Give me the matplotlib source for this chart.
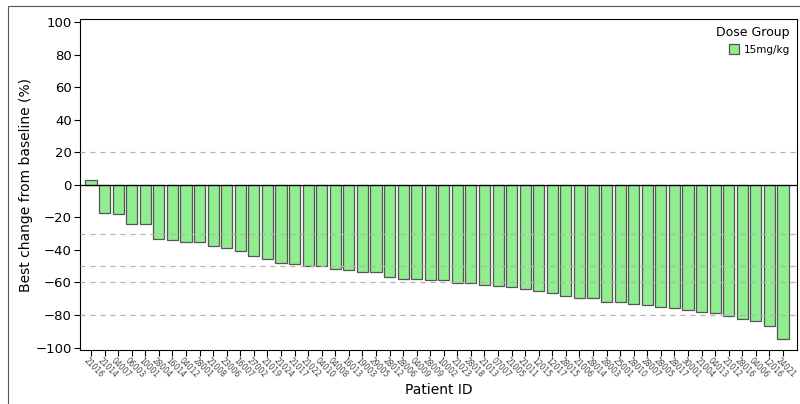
import matplotlib.pyplot as plt
from matplotlib.patches import Rectangle
from matplotlib.transforms import ScaledTranslation

patient_ids = ["21016", "21014", "04007", "06003", "10001", "28004", "16014", "04012",
               "28001", "21008", "23006", "16007", "27002", "21019", "21024", "21017",
               "21022", "04010", "04008", "16013", "19003", "29005", "28012", "28006",
               "04009", "28009", "10002", "21023", "28018", "21013", "07007", "21005",
               "21011", "12015", "12017", "28015", "21006", "28014", "28003", "25001",
               "28010", "28007", "28005", "28017", "30001", "21004", "04013", "21012",
               "28016", "04006", "12016", "24021"]
best_change = [3, -17, -18, -24, -24, -33, -34, -35, -35.4, -37.4, -38.7, -40.5,
               -43.8, -45.6, -48.3, -48.5, -49.9, -50, -51.9, -52.6, -53.4, -53.4,
               -56.9, -57.9, -58, -58.5, -58.7, -60.3, -60.3, -61.8, -62.2, -63,
               -64.2, -65.4, -66.7, -68.1, -69.7, -69.7, -72, -72.2, -73.4, -73.6,
               -74.8, -75.7, -76.9, -77.9, -78.9, -80.6, -82.2, -83.4, -86.9, -94.5]
ref_lines = [20, -30, -50, -60, -80]
dose_group = "15mg/kg"

fig = plt.figure(figsize=(8, 4.04), dpi=100)
ax = fig.add_axes([80 / 800, 1 - 350 / 404, 717 / 800, 331 / 404])

# outer frame around the graph
fig.patches.append(Rectangle((8 / 800, -0.02), 1.0, 1 - 6 / 404 + 0.02,
                             transform=fig.transFigure, fill=False,
                             edgecolor='#555555', linewidth=0.8))

x = range(len(patient_ids))
for y in ref_lines:
    ax.axhline(y, color='#b0b0b0', linestyle=(0, (4, 4)), linewidth=0.9, zorder=4)
ax.axhline(0, color='black', linewidth=0.9, zorder=3)

ax.bar(x, best_change, width=0.82, color='#90EE90', edgecolor='#555555',
       linewidth=0.9, label=dose_group, zorder=2)

ax.set_xlim(-0.81, len(patient_ids) - 1 + 1.03)
ax.set_ylim(-101.5, 102)
ax.set_yticks(range(-100, 101, 20))
ax.tick_params(axis='y', labelsize=9.5, length=4, pad=2)
ax.set_xticks(list(x))
ax.set_xticklabels(patient_ids, rotation=-45, ha='left', va='center',
                   rotation_mode='anchor', fontsize=5.5, color='#444444')
ax.tick_params(axis='x', length=4, pad=3)
# nudge the slanted labels a bit left so they start at the tick
shift = ScaledTranslation(-4 / 72, 0, fig.dpi_scale_trans)
for lab in ax.get_xticklabels():
    lab.set_transform(lab.get_transform() + shift)

ax.set_ylabel("Best change from baseline (%)", fontsize=10, labelpad=2)
ax.set_xlabel("Patient ID", fontsize=10, labelpad=2)

leg = ax.legend(title="Dose Group", loc='upper right', frameon=False, fontsize=7.5,
                title_fontsize=9, handlelength=1, handleheight=1, borderaxespad=0.3,
                handletextpad=0.4)
leg._legend_box.align = 'right'

fig.savefig("out.png", dpi=100)
